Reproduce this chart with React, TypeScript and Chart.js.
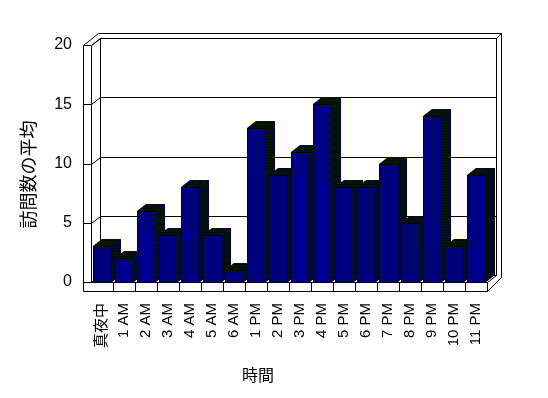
import React, { useEffect, useRef } from 'react';
import { Chart, registerables } from 'chart.js';

Chart.register(...registerables);

const categories = ['真夜中', '1 AM', '2 AM', '3 AM', '4 AM', '5 AM', '6 AM', '1 PM', '2 PM', '3 PM', '4 PM', '5 PM', '6 PM', '7 PM', '8 PM', '9 PM', '10 PM', '11 PM'];
const visits = [3, 2, 6, 4, 8, 4, 1, 13, 9, 11, 15, 8, 8, 10, 5, 14, 3, 9];
const yTickValues = [0, 5, 10, 15, 20];
const xTitle = '時間';
const yTitle = '訪問数の平均';

const DX = 9;
const DY = -7;
const SLAB = 8;
const FONT = '"Liberation Sans", Arial, "Noto Sans CJK JP", sans-serif';
const CJK = '"Noto Sans CJK JP", "Liberation Sans", sans-serif';

function makePattern(ctx: CanvasRenderingContext2D) {
  const c = document.createElement('canvas');
  c.width = 2;
  c.height = 2;
  const p = c.getContext('2d')!;
  p.fillStyle = '#000080';
  p.fillRect(0, 0, 2, 2);
  p.fillStyle = '#000000';
  p.fillRect(0, 0, 1, 1);
  p.fillRect(1, 1, 1, 1);
  return ctx.createPattern(c, 'repeat');
}

const px = (v: number) => Math.round(v) + 0.5;

const framePlugin = {
  id: 'frame3d',
  beforeDatasetsDraw(chart: any) {
    const { ctx, chartArea } = chart;
    const L = chartArea.left;
    const R = chartArea.right;
    const ys = chart.scales.y;
    const xs = chart.scales.x;
    const T = ys.getPixelForValue(20);
    const B = ys.getPixelForValue(0);
    const Bf = B + 9;
    const outerTop = T - 12;
    const outerRight = R + DX + 5;
    ctx.save();
    ctx.lineWidth = 1;
    ctx.strokeStyle = '#000';
    // outer outline
    ctx.beginPath();
    ctx.moveTo(px(L - SLAB), px(T));
    ctx.lineTo(px(L - SLAB + 15), px(outerTop));
    ctx.lineTo(px(outerRight), px(outerTop));
    ctx.lineTo(px(outerRight), px(Bf - 14));
    ctx.lineTo(px(R), px(Bf));
    ctx.lineTo(px(L - SLAB), px(Bf));
    ctx.closePath();
    ctx.fillStyle = '#fff';
    ctx.fill();
    ctx.stroke();

    ctx.beginPath();
    // back wall
    ctx.rect(px(L + DX), px(T + DY), Math.round(R - L), Math.round(B - T));
    ctx.moveTo(px(R + DX), px(T + DY));
    ctx.lineTo(px(outerRight), px(outerTop));
    // left slab
    ctx.moveTo(px(L), px(T));
    ctx.lineTo(px(L), px(B));
    ctx.lineTo(px(L + DX), px(B + DY));
    ctx.moveTo(px(L - SLAB), px(T));
    ctx.lineTo(px(L), px(T));
    ctx.lineTo(px(L + DX), px(T + DY));
    // grid lines
    yTickValues.forEach((v) => {
      const yy = ys.getPixelForValue(v);
      ctx.moveTo(px(L - SLAB), px(yy));
      ctx.lineTo(px(L), px(yy));
      ctx.lineTo(px(L + DX), px(yy + DY));
      ctx.lineTo(px(R + DX), px(yy + DY));
    });
    // floor
    ctx.moveTo(px(L), px(B));
    ctx.lineTo(px(R), px(B));
    ctx.lineTo(px(R + DX), px(B + DY));
    ctx.moveTo(px(R), px(B));
    ctx.lineTo(px(R), px(Bf));
    for (let i = 1; i < categories.length; i++) {
      const bx = (xs.getPixelForValue(i - 1) + xs.getPixelForValue(i)) / 2;
      ctx.moveTo(px(bx), px(B));
      ctx.lineTo(px(bx), px(Bf));
    }
    ctx.stroke();
    ctx.restore();
  },
  afterDatasetsDraw(chart: any) {
    const { ctx } = chart;
    const pattern = makePattern(ctx);
    const meta = chart.getDatasetMeta(0);
    ctx.save();
    meta.data.forEach((bar: any) => {
      const { x, y, base, width } = bar.getProps(['x', 'y', 'base', 'width'], true);
      const x0 = Math.round(x - width / 2);
      const x1 = Math.round(x + width / 2);
      const yt = Math.round(y);
      const yb = Math.round(base);
      ctx.fillStyle = pattern;
      ctx.beginPath();
      ctx.moveTo(x0, yt);
      ctx.lineTo(x0 + DX, yt + DY);
      ctx.lineTo(x1 + DX + 1, yt + DY);
      ctx.lineTo(x1 + DX + 1, yb + DY);
      ctx.lineTo(x1 + 1, yb);
      ctx.lineTo(x1 + 1, yt);
      ctx.closePath();
      ctx.fill();
      ctx.fillStyle = '#000080';
      ctx.fillRect(x0, yt, x1 - x0, yb - yt);
      ctx.strokeStyle = '#000';
      ctx.lineWidth = 1;
      ctx.strokeRect(x0 + 0.5, yt + 0.5, x1 - x0, yb - yt);
    });
    ctx.restore();
  },
  afterDraw(chart: any) {
    const { ctx, chartArea } = chart;
    ctx.save();
    ctx.fillStyle = '#000';
    ctx.textAlign = 'center';
    ctx.textBaseline = 'middle';
    ctx.font = `18px ${CJK}`;
    ctx.translate(28, (chartArea.top + chartArea.bottom) / 2 + 11);
    ctx.rotate(-Math.PI / 2);
    ctx.fillText(yTitle, 0, 0);
    ctx.restore();
    ctx.save();
    ctx.fillStyle = '#000';
    ctx.textAlign = 'center';
    ctx.textBaseline = 'middle';
    ctx.font = `16px ${CJK}`;
    ctx.fillText(xTitle, chartArea.left + 167, chartArea.bottom + 93);
    ctx.restore();
  },
};

export default function App() {
  const ref = useRef<HTMLCanvasElement | null>(null);
  useEffect(() => {
    document.body.style.margin = '0';
    const canvas = ref.current!;
    const chart = new Chart(canvas, {
      type: 'bar',
      data: {
        labels: categories,
        datasets: [
          {
            label: yTitle,
            data: visits,
            backgroundColor: '#000080',
            borderColor: '#000',
            borderWidth: 1,
            barPercentage: 18 / 22,
            categoryPercentage: 1,
          },
        ],
      },
      options: {
        responsive: false,
        animation: false,
        events: [],
        layout: { padding: { top: 45, right: 61, left: 0, bottom: 0 } },
        plugins: { legend: { display: false }, tooltip: { enabled: false } },
        scales: {
          x: {
            type: 'category',
            offset: true,
            grid: { display: false, drawTicks: false },
            border: { display: false },
            ticks: {
              color: '#000',
              autoSkip: false,
              maxRotation: 90,
              minRotation: 90,
              padding: 21,
              font: { family: FONT, size: 15 },
            },
            afterFit: (s: any) => {
              s.height = 116;
            },
          },
          y: {
            min: 0,
            max: 20,
            grid: { display: false, drawTicks: false },
            border: { display: false },
            ticks: {
              stepSize: 5,
              color: '#000',
              padding: 19,
              font: { family: FONT, size: 16 },
            },
            afterFit: (s: any) => {
              s.width = 91;
            },
          },
        },
      },
      plugins: [framePlugin],
    });
    return () => chart.destroy();
  }, []);
  return (
    <div style={{ width: 548, height: 398 }}>
      <canvas ref={ref} width={548} height={398} />
    </div>
  );
}
